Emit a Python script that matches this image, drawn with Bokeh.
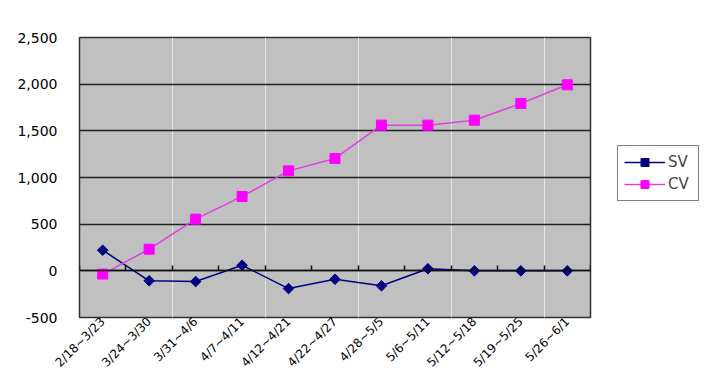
import math
from bokeh.plotting import figure
from bokeh.models import (Range1d, LinearAxis, FixedTicker,
                          NumeralTickFormatter, Legend)
from bokeh.embed import file_html
from bokeh.resources import INLINE

cats = ["2/18~3/23", "3/24~3/30", "3/31~4/6", "4/7~4/11", "4/12~4/21",
        "4/22~4/27", "4/28~5/5", "5/6~5/11", "5/12~5/18", "5/19~5/25", "5/26~6/1"]
sv = [221, -107, -115, 60, -190, -90, -160, 22, 0, 0, 0]
cv = [-35, 232, 554, 797, 1071, 1204, 1561, 1561, 1614, 1793, 1993]
y_ticks = [-500, 0, 500, 1000, 1500, 2000, 2500]

FONT = "DejaVu Sans"

n = len(cats)
xs = [i + 0.5 for i in range(n)]          # category centres
edges = list(range(n + 1))                 # category boundaries

p = figure(x_range=Range1d(0, n), y_range=Range1d(y_ticks[0], y_ticks[-1]),
           frame_width=511, frame_height=280,
           output_backend="svg", toolbar_location=None,
           x_axis_location=None,
           min_border_left=79, min_border_top=37, min_border_right=119,
           min_border_bottom=50)
p.background_fill_color = "#C0C0C0"
p.border_fill_color = "white"
p.outline_line_color = "#303030"
p.outline_line_width = 1.5

# y axis
yax = p.yaxis[0]
yax.ticker = FixedTicker(ticks=y_ticks)
yax.formatter = NumeralTickFormatter(format="0,0")
yax.axis_line_color = None
yax.major_tick_line_color = None
yax.major_tick_out = 0
yax.major_tick_in = 0
yax.minor_tick_line_color = None
yax.major_label_standoff = 22
yax.major_label_text_font = FONT
yax.major_label_text_font_size = "14px"
yax.major_label_text_color = "black"

p.ygrid.ticker = FixedTicker(ticks=y_ticks)
p.ygrid.grid_line_color = "#202020"
p.ygrid.grid_line_width = 1.5

# category labels
xax = LinearAxis(ticker=FixedTicker(ticks=xs),
                 major_label_overrides={x: c for x, c in zip(xs, cats)},
                 axis_line_color=None, major_tick_line_color=None,
                 major_tick_out=0, major_tick_in=0, minor_tick_line_color=None,
                 major_label_orientation=math.pi / 4, major_label_standoff=2,
                 major_label_text_font=FONT, major_label_text_font_size="12px",
                 major_label_text_color="black")
p.add_layout(xax, "below")

# zero line with boundary ticks
tax = LinearAxis(ticker=FixedTicker(ticks=edges),
                 fixed_location=0, axis_line_color="#101010", axis_line_width=1.5,
                 major_tick_in=5, major_tick_out=0, major_tick_line_color="#101010",
                 major_tick_line_width=1.5, minor_tick_line_color=None,
                 major_label_standoff=0,
                 major_label_text_color=None, major_label_text_font_size="1px")
p.add_layout(tax, "below")

r1 = p.line(xs, sv, line_color="#000080", line_width=1.5)
r2 = p.scatter(xs, sv, marker="square", angle=math.pi / 4, size=7.5,
               fill_color="#000080", line_color="#000080")
r3 = p.line(xs, cv, line_color="#E040E0", line_width=1.5)
r4 = p.scatter(xs, cv, marker="square", size=10, fill_color="#FF00FF",
               line_color="#FF00FF")

legend = Legend(items=[("SV", [r1, r2]), ("CV", [r3, r4])], location=(27, 116))
legend.border_line_color = "black"
legend.border_line_width = 1.2
legend.background_fill_color = "white"
legend.background_fill_alpha = 1
legend.label_text_font = FONT
legend.label_text_font_size = "15px"
legend.glyph_width = 41
legend.glyph_height = 20
legend.label_height = 20
legend.label_width = 24
legend.label_standoff = 3
legend.padding = 6
legend.spacing = 2
legend.margin = 0
p.add_layout(legend, "right")

open("out.html", "w").write(file_html(p, INLINE))
